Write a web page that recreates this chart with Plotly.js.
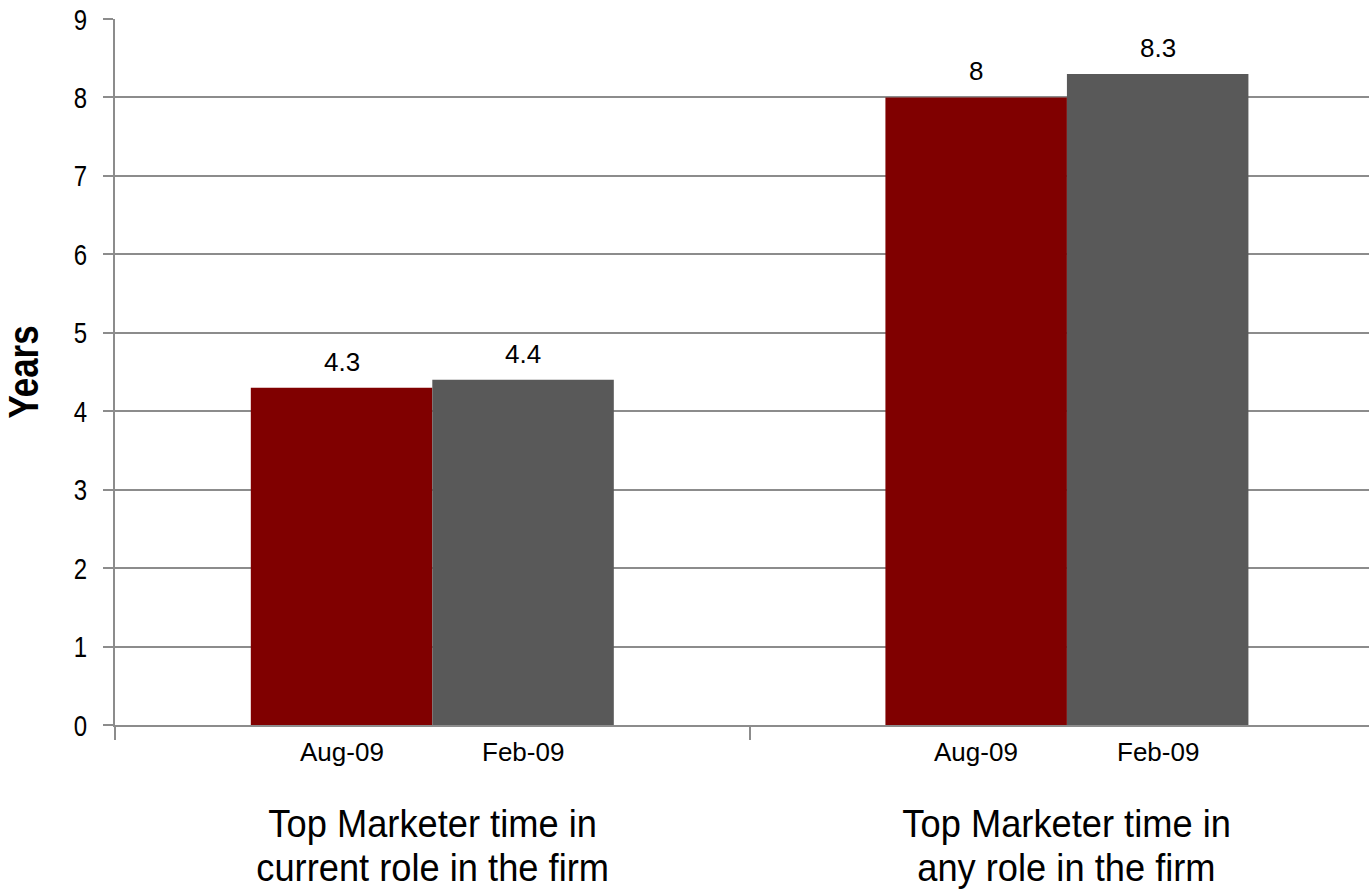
<!DOCTYPE html>
<html>
<head>
<meta charset="utf-8">
<script src="https://cdn.plot.ly/plotly-3.0.1.min.js"></script>
<style>html,body{margin:0;padding:0;background:#fff;}#chart{width:1369px;height:895px;}</style>
</head>
<body>
<div id="chart"></div>
<script>
const categories = ["Top Marketer time in<br>current role in the firm", "Top Marketer time in<br>any role in the firm"];
const seriesNames = ["Aug-09", "Feb-09"];
const aug09 = [4.3, 8];
const feb09 = [4.4, 8.3];
const seriesColors = ["#800000", "#595959"];
const yTicks = [0,1,2,3,4,5,6,7,8,9];

const SANS = "'Liberation Sans', Arial, sans-serif";
const GRID = "#8c8c8c";

const values = [aug09, feb09];
const bargap = 0.428;
const barW = (1 - bargap) / 2;

const traces = values.map((v, s) => ({
  type: 'bar',
  name: seriesNames[s],
  x: categories,
  y: v,
  marker: {color: seriesColors[s], line: {width: 0}},
  hoverinfo: 'skip'
}));

const annotations = [];
const narrowIdx = [];
values.forEach((v, s) => {
  const off = (s - 0.5) * barW;
  v.forEach((val, i) => {
    annotations.push({
      x: i + off, y: val, xref: 'x', yref: 'y',
      text: String(val), showarrow: false,
      xanchor: 'center', yanchor: 'middle', yshift: 26,
      font: {family: SANS, size: 26, color: '#000'}
    });
    annotations.push({
      x: i + off, y: 0, xref: 'x', yref: 'y',
      text: seriesNames[s], showarrow: false,
      xanchor: 'center', yanchor: 'middle', yshift: -27,
      font: {family: SANS, size: 26, color: '#000'}
    });
  });
});
categories.forEach((c, i) => {
  c.split('<br>').forEach((line, k) => {
    narrowIdx.push(annotations.length);
    annotations.push({
      x: i, y: 0, xref: 'x', yref: 'y',
      text: line, showarrow: false,
      xanchor: 'center', yanchor: 'middle', yshift: -98 - 44 * k,
      font: {family: SANS, size: 39, color: '#000'}
    });
  });
});

const layout = {
  width: 1369, height: 895,
  margin: {l: 115, r: 0, t: 19, b: 170, pad: 0},
  paper_bgcolor: '#fff', plot_bgcolor: '#fff',
  showlegend: false,
  barmode: 'group', bargap: bargap, bargroupgap: 0,
  xaxis: {
    type: 'category',
    range: [-0.5, 1.476],
    tickson: 'boundaries',
    ticks: 'outside', ticklen: 13, tickwidth: 2, tickcolor: GRID,
    showticklabels: false,
    showgrid: false, zeroline: false,
    showline: true, linecolor: GRID, linewidth: 2
  },
  yaxis: {
    range: [0, 9],
    tickvals: yTicks,
    ticktext: yTicks.map(String),
    ticks: 'outside', ticklen: 10, tickwidth: 2, tickcolor: GRID,
    ticklabelstandoff: 10,
    tickfont: {family: SANS, size: 30, color: '#000'},
    showgrid: true, gridcolor: GRID, gridwidth: 2,
    zeroline: false,
    showline: true, linecolor: GRID, linewidth: 2,
    title: {text: 'Years', font: {family: SANS, size: 42, color: '#000', weight: 'bold'}, standoff: 19}
  },
  annotations: annotations
};

function condense(el, r) {
  try {
    const L = el.getComputedTextLength();
    if (L > 0) {
      el.setAttribute('textLength', (L * r).toFixed(2));
      el.setAttribute('lengthAdjust', 'spacingAndGlyphs');
    }
  } catch (e) {}
}

Plotly.newPlot('chart', traces, layout, {staticPlot: true, displayModeBar: false}).then(gd => {
  narrowIdx.forEach(k => {
    gd.querySelectorAll('g.annotation[data-index="' + k + '"] text.annotation-text').forEach(el => condense(el, 0.93));
  });
  gd.querySelectorAll('.ytick text').forEach(el => condense(el, 0.8));
  gd.querySelectorAll('.g-ytitle text').forEach(el => condense(el, 0.83));
});
</script>
</body>
</html>
